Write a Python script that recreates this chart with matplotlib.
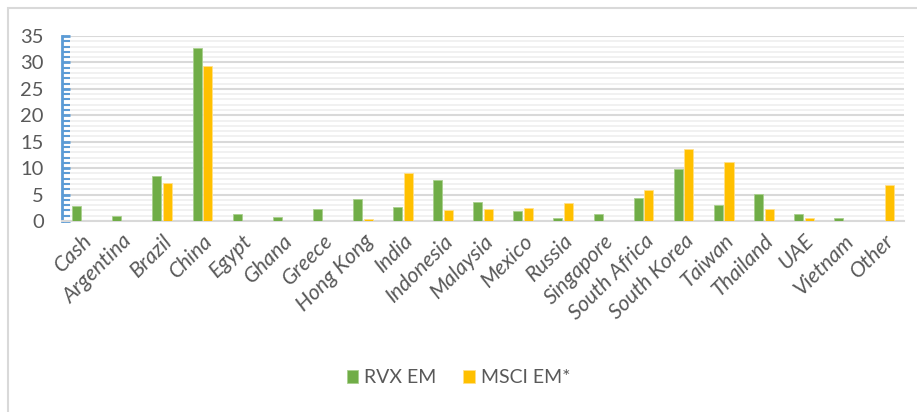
import numpy as np
import matplotlib.pyplot as plt
from matplotlib.patches import Rectangle
from matplotlib.ticker import MultipleLocator

plt.rcParams['font.family'] = ['Lato', 'DejaVu Sans']

# Data
countries = ['Cash', 'Argentina', 'Brazil', 'China', 'Egypt', 'Ghana', 'Greece',
             'Hong Kong', 'India', 'Indonesia', 'Malaysia', 'Mexico', 'Russia',
             'Singapore', 'South Africa', 'South Korea', 'Taiwan', 'Thailand',
             'UAE', 'Vietnam', 'Other']
rvx_em = [2.8, 1.0, 8.6, 32.7, 1.3, 0.8, 2.3, 4.1, 2.7, 7.7, 3.6, 1.8, 0.6,
          1.3, 4.3, 9.8, 3.0, 5.1, 1.3, 0.6, 0.0]
msci_em = [0.0, 0.0, 7.2, 29.4, 0.0, 0.0, 0.0, 0.4, 9.0, 2.0, 2.3, 2.5, 3.4,
           0.0, 5.8, 13.6, 11.2, 2.3, 0.6, 0.0, 6.75]

green = '#70ad47'
gold = '#ffc000'
text_gray = '#595959'

fig = plt.figure(figsize=(9.17, 4.12), dpi=100)
ax = fig.add_axes([0.0676, 0.4636, 0.9184, 0.449])

# outer chart frame
fig.patches.append(Rectangle((8 / 917, -0.05), 1.0, 1.05 - 8 / 412,
                             transform=fig.transFigure, fill=False,
                             edgecolor='#d9d9d9', linewidth=1.5))

x = np.arange(len(countries))
w = 0.225
ax.bar(x - w / 2 - 0.02, rvx_em, w, color=green, edgecolor='#a9d08e',
       linewidth=0.6, label='RVX EM', zorder=3)
ax.bar(x + w / 2 + 0.02, msci_em, w, color=gold, edgecolor='#ffe08a',
       linewidth=0.6, label='MSCI EM*', zorder=3)

ax.set_xlim(-0.5, len(countries) - 0.5)
ax.set_ylim(0, 35)
ax.yaxis.set_major_locator(MultipleLocator(5))
ax.yaxis.set_minor_locator(MultipleLocator(1))
ax.grid(axis='y', which='major', color='#d9d9d9', linewidth=1.5, zorder=0)
ax.grid(axis='y', which='minor', color='#f0f0f0', linewidth=1.3, zorder=0)
ax.set_axisbelow(True)

for s in ['top', 'right']:
    ax.spines[s].set_visible(False)
ax.spines['bottom'].set_color('#d9d9d9')
ax.spines['bottom'].set_linewidth(1.5)
ax.spines['left'].set_color('#5b9bd5')
ax.spines['left'].set_linewidth(2)

ax.tick_params(axis='y', which='major', direction='in', length=6, width=2,
               color='#5b9bd5', labelsize=14.5, labelcolor=text_gray, pad=13)
ax.tick_params(axis='y', which='minor', direction='in', length=6, width=1.5,
               color='#5b9bd5')
ax.tick_params(axis='x', length=0, pad=7)

ax.set_xticks(x)
ax.set_xticklabels(countries, rotation=45, ha='right', rotation_mode='anchor',
                   fontsize=15.5, color=text_gray, style='italic')

fig.legend(loc='center', bbox_to_anchor=(0.5, 0.083), ncol=2, frameon=False,
           fontsize=14, labelcolor=text_gray, handlelength=0.6,
           handleheight=0.7, handletextpad=0.3, columnspacing=1.4)

fig.savefig('out.png', dpi=100)
